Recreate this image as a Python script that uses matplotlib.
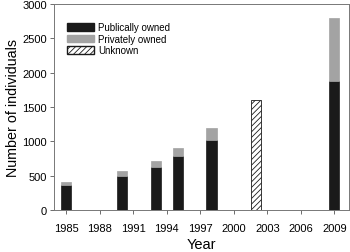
import matplotlib

matplotlib.use("Agg")
import matplotlib.pyplot as plt
from matplotlib.patches import Patch

plt.rcParams["font.family"] = ["Liberation Sans", "DejaVu Sans"]
plt.rcParams["hatch.linewidth"] = 0.6

years = [1985, 1990, 1993, 1995, 1998, 2009]
public = [370, 500, 620, 780, 1020, 1880]
private = [40, 70, 90, 130, 180, 920]
unknown_year = [2002]
unknown = [1600]
xticks = [1985, 1988, 1991, 1994, 1997, 2000, 2003, 2006, 2009]
yticks = [0, 500, 1000, 1500, 2000, 2500, 3000]

fig = plt.figure(figsize=(3.5, 2.53), dpi=100)
ax = fig.add_axes([0.154, 0.166, 0.843, 0.814])

w = 0.9
ax.bar(years, public, width=w, color="#1a1a1a", edgecolor="#1a1a1a", lw=0.5)
ax.bar(years, private, width=w, bottom=public, color="#a3a3a3", edgecolor="#a3a3a3", lw=0.5)
ax.bar(unknown_year, unknown, width=w, color="white", edgecolor="#1a1a1a", hatch="//////", lw=0.6)

ax.set_xlim(1983.9, 2010.3)
ax.set_ylim(0, 3000)
ax.set_xticks(xticks)
ax.set_yticks(yticks)
ax.tick_params(labelsize=8, length=3, width=0.6, color="#555555", pad=2)
ax.tick_params(axis="x", pad=6)
for s in ax.spines.values():
    s.set_color("#777777")
    s.set_linewidth(0.7)
ax.set_xlabel("Year", fontsize=10.5, labelpad=3)
ax.set_ylabel("Number of individuals", fontsize=10.3, labelpad=2)

handles = [Patch(facecolor="#1a1a1a", edgecolor="#1a1a1a", label="Publically owned"),
           Patch(facecolor="#a3a3a3", edgecolor="#a3a3a3", label="Privately owned"),
           Patch(facecolor="white", edgecolor="#1a1a1a", hatch="//////", label="Unknown")]
ax.legend(handles=handles, loc="upper left", bbox_to_anchor=(0.03, 0.93), frameon=False,
          fontsize=7, handlelength=2.8, handleheight=0.8, labelspacing=0.15,
          handletextpad=0.4, borderaxespad=0)

fig.savefig("out.png", dpi=100)
